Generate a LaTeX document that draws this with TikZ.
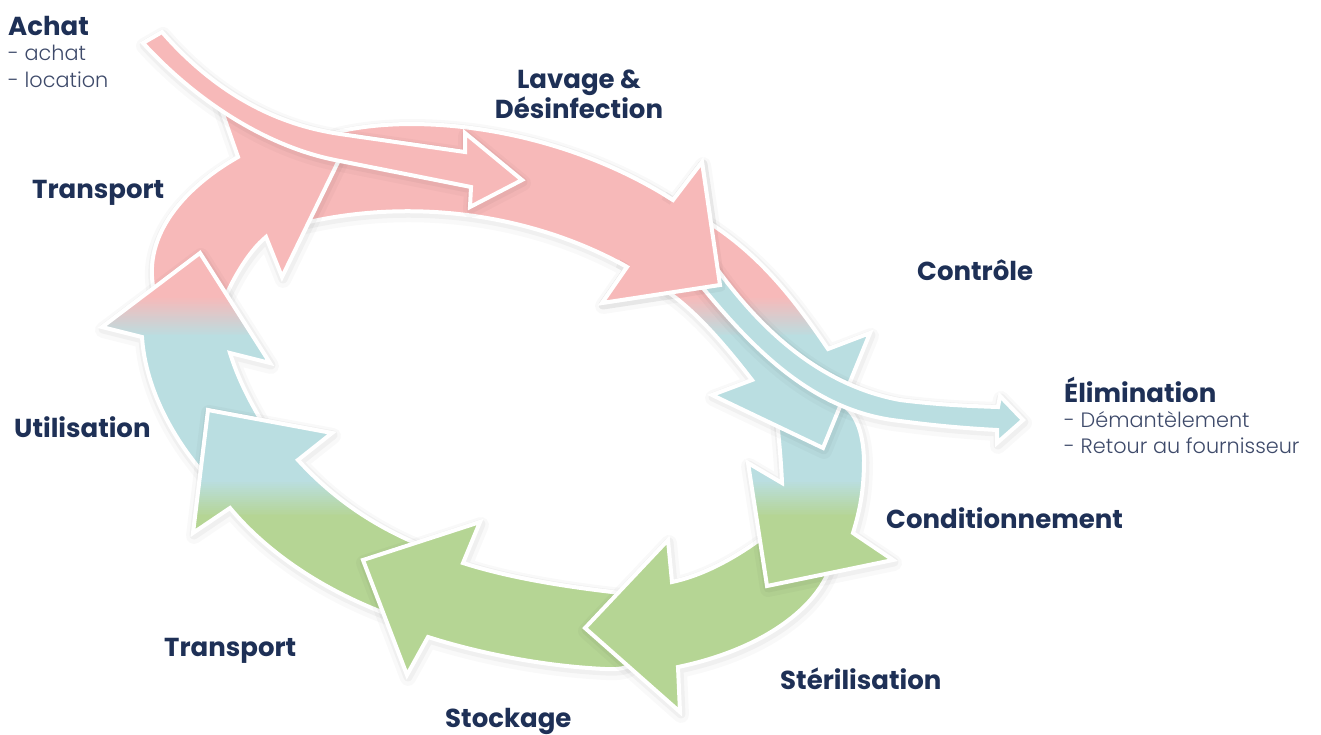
\documentclass[tikz,border=0pt]{standalone}
\usepackage{fontspec}
\setmainfont{Poppins}
\newfontfamily\lightfont{Poppins Light}
\definecolor{cpink}{RGB}{247,185,185}
\definecolor{cblue}{RGB}{186,222,225}
\definecolor{cgreen}{RGB}{181,213,148}
\definecolor{navy}{RGB}{30,48,86}
\definecolor{subnavy}{RGB}{62,74,106}

\newcommand\gradfill{%
  \fill[cpink] (-10,-10) rectangle (1331,297);
  \foreach \i in {0,...,19}{%
    \pgfmathtruncatemacro\p{100-5*\i}%
    \fill[cpink!\p!cblue] (-10,{296+2*\i}) rectangle (1331,{298.6+2*\i});
  }%
  \fill[cblue] (-10,335) rectangle (1331,481);
  \foreach \i in {0,...,17}{%
    \pgfmathtruncatemacro\p{100-(100/18)*\i}%
    \fill[cblue!\p!cgreen] (-10,{480+2*\i}) rectangle (1331,{482.6+2*\i});
  }%
  \fill[cgreen] (-10,515) rectangle (1331,745);
}

\newcommand\cyclearrow[1]{%
  \draw[shA] #1;
  \draw[shB] #1;
  \begin{scope}\clip #1; \gradfill\end{scope}
  \draw[outl] #1;
}

\def\pLav{(322,140) -- (337,132) .. controls (420,112) and (560,128) .. (673,200) -- (702,162) -- (720,285) -- (602,303) -- (627,267) .. controls (540,218) and (420,195) .. (300,224) -- cycle}
\def\pLavHead{(673,200) -- (702,162) -- (720,285) -- (602,303) -- (627,267) -- cycle}
\def\pLavHeadEdge{(663,193.6) -- (673,200) -- (702,162) -- (720,285) -- (602,303) -- (627,267) -- (617,261.4)}
\def\pTrT{(155,295) .. controls (140,240) and (180,190) .. (238,157) -- (218,100) -- (340,158) -- (282,277) -- (266,237) .. controls (248,252) and (232,280) .. (222,305) -- cycle}
\def\pUtil{(205,475) .. controls (170,435) and (145,385) .. (142,337) -- (102,327) -- (200,253) -- (270,363) -- (230,353) .. controls (240,385) and (255,410) .. (268,432) -- cycle}
\def\pTrB{(395,617) .. controls (320,590) and (265,550) .. (230,508) -- (193,533) -- (208,410) -- (332,433) -- (298,460) .. controls (330,495) and (370,525) .. (425,547) -- cycle}
\def\pStock{(640,650) .. controls (635,667) and (625,670) .. (605,669) .. controls (540,666) and (475,652) .. (428,637) -- (407,675) -- (363,560) -- (480,522) -- (463,563) .. controls (510,578) and (570,588) .. (640,595) -- cycle}
\def\pSter{(830,568) .. controls (815,610) and (760,650) .. (678,667) -- (680,712) -- (585,628) -- (668,540) -- (672,582) .. controls (700,576) and (735,560) .. (775,528) -- cycle}
\def\pCond{(785,405) -- (830,400) .. controls (852,404) and (863,425) .. (864,460) .. controls (864,490) and (860,510) .. (853,533) -- (893,560) -- (767,586) -- (748,463) -- (782,483) .. controls (781,460) and (779,440) .. (777,420) -- cycle}
\def\pCtrl{(708,222) .. controls (760,255) and (795,300) .. (828,349) -- (870,333) -- (823,448) -- (712,395) -- (752,380) .. controls (725,345) and (695,310) .. (665,290) -- cycle}
\def\pElim{(712,262) .. controls (760,330) and (820,385) .. (900,400) .. controls (940,405) and (970,406) .. (998,407) -- (1000,396) -- (1023,420) -- (997,443) -- (997,430) .. controls (960,428) and (930,425) .. (900,421) .. controls (815,412) and (755,352) .. (698,282) -- cycle}
\def\pAchat{(162,32) .. controls (230,110) and (300,128) .. (340,134) -- (465,152) -- (465,133) -- (522,180) -- (470,207) -- (471,187) -- (335,160) .. controls (270,147) and (200,105) .. (143,43) -- cycle}

\tikzset{
  outl/.style={draw=white, line width=4pt, line join=miter},
  shA/.style={draw=black, opacity=0.022, line width=16pt, line join=round, shift={(1,3)}},
  shB/.style={draw=black, opacity=0.035, line width=9pt, line join=round, shift={(1,2)}},
  lbl/.style={font=\fontsize{26}{30}\selectfont\bfseries, text=navy, inner sep=0pt},
  sublbl/.style={font=\lightfont\fontsize{20.8}{24}\selectfont, text=subnavy, inner sep=0pt}
}

\begin{document}
\begin{tikzpicture}[x=1pt,y=-1pt]
\useasboundingbox (0,0) rectangle (1321,735);
\fill[white] (0,0) rectangle (1321,735);

% cycle arrows (each head above the next tail)
\cyclearrow{\pLav}
\cyclearrow{\pTrT}
\cyclearrow{\pUtil}
\cyclearrow{\pTrB}
\cyclearrow{\pStock}
\cyclearrow{\pSter}
\cyclearrow{\pCond}
\cyclearrow{\pCtrl}

% elimination branch
\draw[shA] \pElim;
\draw[shB] \pElim;
\fill[cblue] \pElim;
\draw[outl] \pElim;

% head of the washing arrow, above the control arrow tail
\draw[shB] \pLavHeadEdge;
\begin{scope}\clip \pLavHead; \gradfill\end{scope}
\draw[outl] \pLavHeadEdge;

% purchase arrow
\draw[shA] \pAchat;
\draw[shB] \pAchat;
\fill[cpink] \pAchat;
\draw[outl] \pAchat;

% labels
\node[lbl, anchor=base west] (achat) at (8,36) {Achat};
\node[sublbl, anchor=base west] (achat1) at (8,61) {- achat};
\node[sublbl, anchor=base west] (achat2) at (8,88) {- location};
\node[lbl, anchor=base] (lav1) at (579,89) {Lavage \&};
\node[lbl, anchor=base] (lav2) at (579,119) {Désinfection};
\node[lbl, anchor=base west] (tr1) at (32,199) {Transport};
\node[lbl, anchor=base west] (ctrl) at (917,280) {Contrôle};
\node[lbl, anchor=base west] (elim) at (1064,402) {Élimination};
\node[sublbl, anchor=base west] (elim1) at (1064,427) {- Démantèlement};
\node[sublbl, anchor=base west] (elim2) at (1064,453) {- Retour au fournisseur};
\node[lbl, anchor=base west] (util) at (14,437) {Utilisation};
\node[lbl, anchor=base west] (cond) at (886,528) {Conditionnement};
\node[lbl, anchor=base west] (tr2) at (164,656) {Transport};
\node[lbl, anchor=base west] (ster) at (780,689) {Stérilisation};
\node[lbl, anchor=base west] (stock) at (445,727) {Stockage};
\end{tikzpicture}
\end{document}
